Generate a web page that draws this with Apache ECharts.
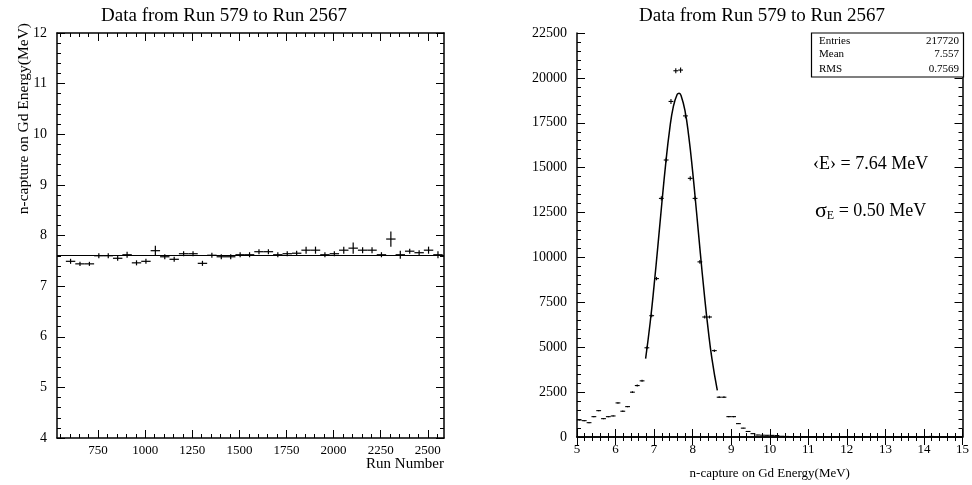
<!DOCTYPE html>
<html>
<head>
<meta charset="utf-8">
<script src="https://cdn.jsdelivr.net/npm/echarts@6/dist/echarts.min.js"></script>
<style>
html,body{margin:0;padding:0;background:#fff;}
#c{width:972px;height:485px;}
</style>
</head>
<body>
<div id="c"></div>
<script>
// ---------- Left panel: energy vs run ----------
const runCenters = [604,654,704,754,804,854,904,954,1004,1054,1104,1154,1204,1254,1304,1354,1404,1454,1504,1554,
  1604,1654,1704,1754,1804,1854,1904,1954,2004,2054,2104,2154,2204,2254,2304,2354,2404,2454,2504,2554];
const runEnergy = [7.49,7.44,7.44,7.60,7.60,7.55,7.62,7.46,7.49,7.70,7.58,7.53,7.64,7.64,7.45,7.61,7.58,7.58,7.62,7.62,
  7.68,7.68,7.62,7.64,7.65,7.71,7.71,7.62,7.64,7.71,7.75,7.71,7.71,7.62,7.93,7.62,7.69,7.66,7.71,7.62];
const runEnergyErr = [0.05,0.04,0.04,0.05,0.05,0.05,0.06,0.05,0.05,0.10,0.05,0.05,0.05,0.05,0.05,0.05,0.05,0.05,0.05,0.05,
  0.05,0.05,0.05,0.05,0.05,0.07,0.07,0.05,0.05,0.07,0.11,0.06,0.06,0.05,0.15,0.08,0.05,0.05,0.07,0.07];
const runBinHalfWidth = 25;
const runFitLevel = 7.61;
const leftXTicks = [750,1000,1250,1500,1750,2000,2250,2500];
const leftXMinorTicks = [550,600,650,700,800,850,900,950,1050,1100,1150,1200,1300,1350,1400,1450,1550,1600,1650,1700,
  1800,1850,1900,1950,2050,2100,2150,2200,2300,2350,2400,2450,2550];

// ---------- Right panel: energy histogram ----------
const energyCenters = [5.0625,5.1875,5.3125,5.4375,5.5625,5.6875,5.8125,5.9375,6.0625,6.1875,6.3125,6.4375,6.5625,6.6875,6.8125,6.9375,
  7.0625,7.1875,7.3125,7.4375,7.5625,7.6875,7.8125,7.9375,8.0625,8.1875,8.3125,8.4375,8.5625,8.6875,8.8125,8.9375,
  9.0625,9.1875,9.3125,9.4375,9.5625,9.6875,9.8125,9.9375,10.0625,10.1875,10.3125,10.4375,10.5625,10.6875,10.8125,10.9375,
  11.0625,11.1875,11.3125,11.4375,11.5625,11.6875,11.8125,11.9375,12.0625,12.1875,12.3125,12.4375,12.5625,12.6875,12.8125,12.9375,
  13.0625,13.1875,13.3125,13.4375,13.5625,13.6875,13.8125,13.9375,14.0625,14.1875,14.3125,14.4375,14.5625,14.6875,14.8125,14.9375];
const energyCounts = [949,910,798,1133,1468,1022,1133,1172,1898,1435,1692,2496,2864,3127,4969,6756,
  8822,13289,15427,18688,20397,20436,17884,14405,13289,9754,6683,6683,4810,2216,2216,1134,
  1134,745,493,308,187,110,100,95,90,80,40,30,25,20,15,12,
  10,9,8,7,7,6,6,5,5,5,6,8,5,4,4,3,
  3,3,2,2,2,2,2,2,3,30,2,2,1,1,1,1];
const energyBinHalfWidth = 0.0625;
const fitX = [6.78,6.9,7.0,7.1,7.2,7.3,7.4,7.5,7.6,7.65,7.7,7.8,7.9,8.0,8.1,8.2,8.3,8.4,8.5,8.64];
const fitY = [4362,6406,8441,10688,13003,15197,17067,18415,19089,19150,19012,18194,16728,14778,12543,10228,8014,6032,4362,2591];
const statsLabels = ['Entries','Mean','RMS'];
const statsValues = ['217720','7.557','0.7569'];
const titleText = 'Data from Run 579 to Run 2567';
const meanText = '\u2039E\u203A = 7.64 MeV';
const sigmaValueText = ' = 0.50 MeV';

const FONT = 'Liberation Serif';
const black = '#000';

function errorCross(halfWidth, lw) {
  return function (params, api) {
    const x = api.value(0), y = api.value(1), ey = api.value(2);
    const a = api.coord([x - halfWidth, y]);
    const b = api.coord([x + halfWidth, y]);
    const c = api.coord([x, y - ey]);
    const d = api.coord([x, y + ey]);
    return {
      type: 'group',
      children: [
        {type: 'line', shape: {x1: a[0], y1: a[1], x2: b[0], y2: b[1]}, style: {stroke: black, lineWidth: lw}},
        {type: 'line', shape: {x1: c[0], y1: c[1], x2: d[0], y2: d[1]}, style: {stroke: black, lineWidth: lw}}
      ]
    };
  };
}

const leftData = runCenters.map((x, i) => [x, runEnergy[i], runEnergyErr[i]]);
const rightData = energyCenters.map((x, i) => [x, energyCounts[i], Math.sqrt(energyCounts[i])]);
const fitData = fitX.map((x, i) => [x, fitY[i]]);

const lineStyle = {color: black, width: 1.5};
const tickStyle = {color: black, width: 1};
const plain = v => String(v);
const labelStyle = {color: black, fontFamily: FONT, fontSize: 13, formatter: plain};

const chart = echarts.init(document.getElementById('c'));
chart.setOption({
  animation: false,
  backgroundColor: '#fff',
  title: [
    {text: titleText, left: 219, top: 2, textAlign: 'center',
     textStyle: {fontFamily: FONT, fontWeight: 'normal', fontSize: 19, color: black}},
    {text: titleText, left: 757, top: 2, textAlign: 'center',
     textStyle: {fontFamily: FONT, fontWeight: 'normal', fontSize: 19, color: black}}
  ],
  grid: [
    {left: 57, top: 33, width: 387, height: 405},
    {left: 577, top: 33, width: 387, height: 405}
  ],
  xAxis: [
    {gridIndex: 0, type: 'value', min: 532, max: 2586, position: 'bottom',
     axisLine: {lineStyle: lineStyle},
     axisTick: {inside: true, length: 8, customValues: leftXTicks, lineStyle: tickStyle},
     axisLabel: {customValues: leftXTicks, margin: 6, ...labelStyle},
     splitLine: {show: false}},
    {gridIndex: 0, type: 'value', min: 532, max: 2586, position: 'bottom',
     axisLine: {show: false},
     axisTick: {inside: true, length: 4, customValues: leftXMinorTicks, lineStyle: tickStyle},
     axisLabel: {show: false}, splitLine: {show: false}},
    {gridIndex: 0, type: 'value', min: 532, max: 2586, position: 'top',
     axisLine: {lineStyle: lineStyle},
     axisTick: {inside: true, length: 8, customValues: leftXTicks, lineStyle: tickStyle},
     axisLabel: {show: false}, splitLine: {show: false}},
    {gridIndex: 0, type: 'value', min: 532, max: 2586, position: 'top',
     axisLine: {show: false},
     axisTick: {inside: true, length: 4, customValues: leftXMinorTicks, lineStyle: tickStyle},
     axisLabel: {show: false}, splitLine: {show: false}},
    {gridIndex: 1, type: 'value', min: 5, max: 15, interval: 1, position: 'bottom',
     axisLine: {lineStyle: lineStyle},
     axisTick: {inside: true, length: 8, lineStyle: tickStyle},
     minorTick: {show: true, splitNumber: 5, length: 4, lineStyle: tickStyle},
     axisLabel: {margin: 6, ...labelStyle},
     splitLine: {show: false},
     name: 'n-capture on Gd Energy(MeV)', nameLocation: 'middle', nameGap: 30,
     nameTextStyle: {fontFamily: FONT, fontSize: 13, color: black}},
    {gridIndex: 1, type: 'value', min: 5, max: 15, interval: 1, position: 'top',
     axisLine: {lineStyle: lineStyle},
     axisTick: {inside: true, length: 8, lineStyle: tickStyle},
     minorTick: {show: true, splitNumber: 5, length: 4, lineStyle: tickStyle},
     axisLabel: {show: false}, splitLine: {show: false}}
  ],
  yAxis: [
    {gridIndex: 0, type: 'value', min: 4, max: 12, interval: 1, position: 'left',
     axisLine: {lineStyle: lineStyle},
     axisTick: {inside: true, length: 8, lineStyle: tickStyle},
     minorTick: {show: true, splitNumber: 5, length: 4, lineStyle: tickStyle},
     axisLabel: {margin: 10, ...labelStyle, fontSize: 14},
     splitLine: {show: false}},
    {gridIndex: 0, type: 'value', min: 4, max: 12, interval: 1, position: 'right',
     axisLine: {lineStyle: lineStyle},
     axisTick: {inside: true, length: 8, lineStyle: tickStyle},
     minorTick: {show: true, splitNumber: 5, length: 4, lineStyle: tickStyle},
     axisLabel: {show: false}, splitLine: {show: false}},
    {gridIndex: 1, type: 'value', min: 0, max: 22500, interval: 2500, position: 'left',
     axisLine: {lineStyle: lineStyle},
     axisTick: {inside: true, length: 8, lineStyle: tickStyle},
     minorTick: {show: true, splitNumber: 5, length: 4, lineStyle: tickStyle},
     axisLabel: {margin: 10, ...labelStyle, fontSize: 14},
     splitLine: {show: false}},
    {gridIndex: 1, type: 'value', min: 0, max: 22500, interval: 2500, position: 'right',
     axisLine: {lineStyle: lineStyle},
     axisTick: {inside: true, length: 8, lineStyle: tickStyle},
     minorTick: {show: true, splitNumber: 5, length: 4, lineStyle: tickStyle},
     axisLabel: {show: false}, splitLine: {show: false}}
  ],
  series: [
    {type: 'custom', xAxisIndex: 0, yAxisIndex: 0, data: leftData,
     encode: {x: 0, y: 1}, renderItem: errorCross(runBinHalfWidth, 1.2), z: 3,
     markLine: {silent: true, symbol: 'none', label: {show: false},
       lineStyle: {color: black, width: 1.2, type: 'solid'}, data: [{yAxis: runFitLevel}]}},
    {type: 'custom', xAxisIndex: 4, yAxisIndex: 2, data: rightData,
     encode: {x: 0, y: 1}, renderItem: errorCross(energyBinHalfWidth, 1.1), z: 3},
    {type: 'line', xAxisIndex: 4, yAxisIndex: 2, data: fitData, smooth: true, showSymbol: false,
     symbol: 'none', lineStyle: {color: black, width: 1.5}, z: 4}
  ],
  graphic: [
    {type: 'text', x: 24, y: 23, rotation: Math.PI / 2,
     style: {text: 'n-capture on Gd Energy(MeV)', fontFamily: FONT, fontSize: 15.5, fill: black,
             align: 'right', verticalAlign: 'middle'}},
    {type: 'text', x: 444, y: 457,
     style: {text: 'Run Number', fontFamily: FONT, fontSize: 15, fill: black, align: 'right', verticalAlign: 'top'}},
    {type: 'rect', shape: {x: 811.5, y: 33, width: 152, height: 44},
     style: {fill: '#fff', stroke: black, lineWidth: 1.2}, z: 10},
    {type: 'text', x: 819, y: 40.7, z: 11, style: {text: statsLabels[0], fontFamily: FONT, fontSize: 11, fill: black, verticalAlign: 'middle'}},
    {type: 'text', x: 819, y: 54.5, z: 11, style: {text: statsLabels[1], fontFamily: FONT, fontSize: 11, fill: black, verticalAlign: 'middle'}},
    {type: 'text', x: 819, y: 69.5, z: 11, style: {text: statsLabels[2], fontFamily: FONT, fontSize: 11, fill: black, verticalAlign: 'middle'}},
    {type: 'text', x: 959, y: 40.7, z: 11, style: {text: statsValues[0], fontFamily: FONT, fontSize: 11, fill: black, align: 'right', verticalAlign: 'middle'}},
    {type: 'text', x: 959, y: 54.5, z: 11, style: {text: statsValues[1], fontFamily: FONT, fontSize: 11, fill: black, align: 'right', verticalAlign: 'middle'}},
    {type: 'text', x: 959, y: 69.5, z: 11, style: {text: statsValues[2], fontFamily: FONT, fontSize: 11, fill: black, align: 'right', verticalAlign: 'middle'}},
    {type: 'text', x: 813, y: 164, z: 11,
     style: {text: meanText, fontFamily: FONT, fontSize: 18, fill: black, verticalAlign: 'middle'}},
    {type: 'text', x: 815, y: 211, z: 11,
     style: {text: '{s|\u03C3}{sub|E}{t|' + sigmaValueText + '}', verticalAlign: 'middle',
       rich: {
         s: {fontFamily: FONT, fontSize: 22, fill: black},
         sub: {fontFamily: FONT, fontSize: 12, fill: black, padding: [10, 0, 0, 0]},
         t: {fontFamily: FONT, fontSize: 18, fill: black}
       }}}
  ]
});
</script>
</body>
</html>
